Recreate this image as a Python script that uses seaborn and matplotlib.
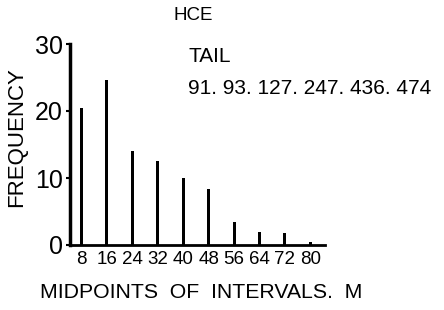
import numpy as np
import pandas as pd
import matplotlib
matplotlib.use("Agg")
import matplotlib.pyplot as plt
import seaborn as sns

# ------------------------ Données ------------------------
midpoints = [8, 16, 24, 32, 40, 48, 56, 64, 72, 80]
frequency = [20.4, 24.7, 14.1, 12.5, 10.0, 8.3, 3.4, 1.9, 1.8, 0.4]
y_ticks = [0, 10, 20, 30]
title_text = "HCE"
tail_title = "TAIL"
tail_values = "91. 93. 127. 247. 436. 474"
x_label = "MIDPOINTS  OF  INTERVALS.  M"
y_label = "FREQUENCY"

df = pd.DataFrame({"mid": midpoints, "freq": frequency})

# ------------------------ Figure ------------------------
sns.set_theme(style="ticks")
plt.rcParams["font.family"] = ["Liberation Sans", "DejaVu Sans"]
plt.rcParams["text.color"] = "black"

fig = plt.figure(figsize=(4.44, 3.10), dpi=100)
ax = fig.add_axes([70 / 444, 65 / 310, 255 / 444, 201 / 310])

sns.barplot(data=df, x="mid", y="freq", native_scale=True, width=0.12,
            color="black", edgecolor="black", linewidth=0, ax=ax)

ax.set_xlim(4.4, 84.6)
ax.set_ylim(0, 30)
ax.set_xticks(midpoints)
ax.set_xticklabels([str(m) for m in midpoints], fontsize=13.5)
ax.set_yticks(y_ticks)
ax.set_yticklabels([str(t) for t in y_ticks], fontsize=18)
ax.tick_params(axis="x", length=0, pad=4, colors="black")
ax.tick_params(axis="y", length=3, width=1.5, pad=2, colors="black")

for s in ["top", "right"]:
    ax.spines[s].set_visible(False)
ax.spines["left"].set_linewidth(2.5)
ax.spines["bottom"].set_linewidth(2)
ax.spines["left"].set_color("black")
ax.spines["bottom"].set_color("black")

ax.set_xlabel("")
ax.set_ylabel("")
fig.text(17 / 444, 1 - 137 / 310, y_label, rotation=90, ha="center",
         va="center", fontsize=16)
fig.text(201 / 444, 1 - 293 / 310, x_label, ha="center", va="center",
         fontsize=15.3)
fig.text(193 / 444, 1 - 16 / 310, title_text, ha="center", va="center",
         fontsize=13.5)
fig.text(188 / 444, 1 - 57 / 310, tail_title, ha="left", va="center",
         fontsize=15)
fig.text(188 / 444, 1 - 88 / 310, tail_values, ha="left", va="center",
         fontsize=15)

fig.savefig("out.png", dpi=100)
